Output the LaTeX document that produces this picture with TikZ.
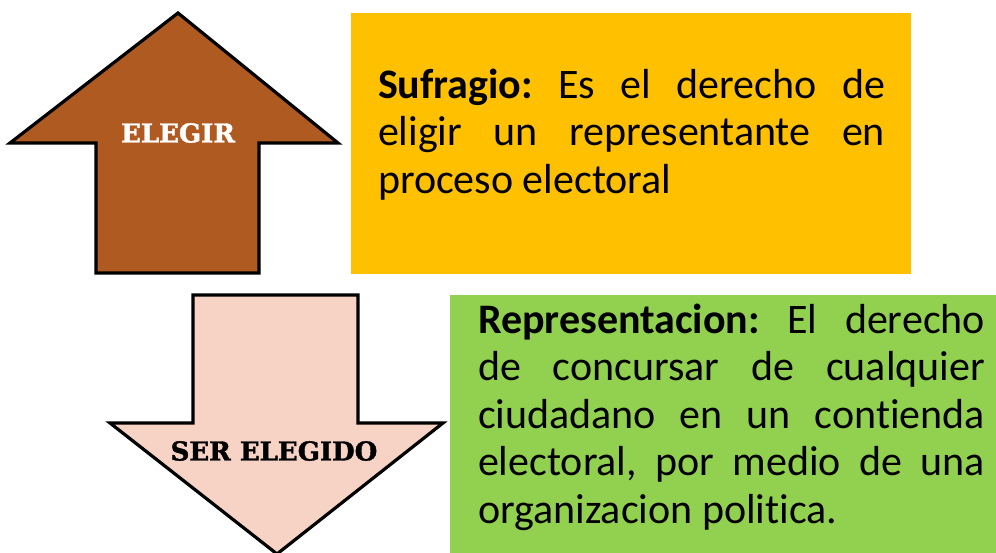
\documentclass[tikz,border=0pt]{standalone}
\usepackage{fontspec}
\setmainfont{Carlito}[Ligatures=NoCommon]
\newfontfamily\labelfont{DejaVu Serif}[BoldFeatures={FakeBold=1.5}]
\definecolor{arrowbrown}{HTML}{AE5A21}
\definecolor{arrowpink}{HTML}{F7D3C6}
\definecolor{boxyellow}{HTML}{FFC000}
\definecolor{boxgreen}{HTML}{92D050}
\newcommand\nohyph{\frenchspacing\hyphenpenalty=10000 \exhyphenpenalty=10000 }
\tikzset{
  arrowshape/.style={draw=black, line width=3.2pt, miter limit=10},
  colorbox/.style={draw=none, anchor=north west, inner sep=0pt, outer sep=0pt},
  bodytext/.style={anchor=north west, inner sep=0pt, outer sep=0pt, text width=507pt, align=justify,
    font=\fontsize{42}{47.5}\selectfont},
  arrowlabel/.style={inner sep=0pt, font=\labelfont\bfseries\fontsize{26}{30}\selectfont}
}
\begin{document}
\begin{tikzpicture}[x=1pt,y=-1pt]
\useasboundingbox (0,0) rectangle (996,553);
\fill[white] (0,0) rectangle (996,553);
% up arrow
\draw[arrowshape, fill=arrowbrown] (178,13) -- (338,143) -- (259,143) -- (259,273) -- (96,273) -- (96,143) -- (10,143) -- cycle;
\node[arrowlabel, text=white] (elegir) at (178,133) {ELEGIR};
% down arrow
\draw[arrowshape, fill=arrowpink] (193,295) -- (358,295) -- (358,423) -- (443,423) -- (277,554) -- (110,423) -- (193,423) -- cycle;
\node[arrowlabel, text=black] (sereleg) at (274,451) {SER ELEGIDO};
% yellow box
\node[colorbox, fill=boxyellow, minimum width=560pt, minimum height=261pt] (ybox) at (351,13) {};
\node[bodytext] (ytext) at (378,69) {\nohyph\textbf{Sufragio:} Es el derecho de\linebreak eligir un representante en\linebreak proceso electoral};
% green box
\node[colorbox, fill=boxgreen, minimum width=546pt, minimum height=258pt] (gbox) at (450,295) {};
\node[bodytext] (gtext) at (478,304) {\nohyph\textbf{Representacion:} El derecho\linebreak de concursar de cualquier\linebreak ciudadano en un contienda\linebreak electoral, por medio de una\linebreak organizacion politica.};
\end{tikzpicture}
\end{document}
